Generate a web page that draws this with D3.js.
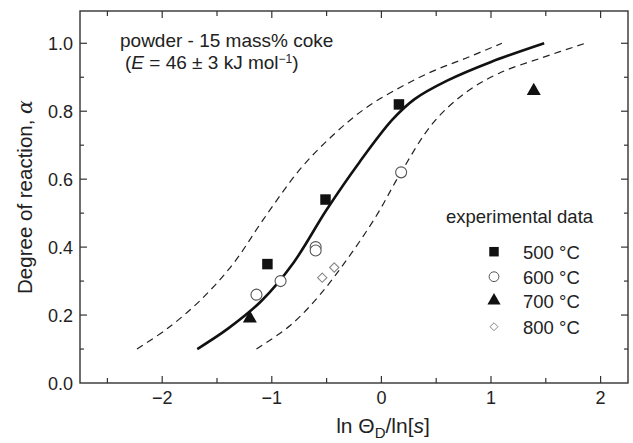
<!DOCTYPE html>
<html>
<head>
<meta charset="utf-8">
<script src="https://cdn.jsdelivr.net/npm/d3@7"></script>
<style>
  body { margin: 0; background: #fff; }
  text { font-family: "Liberation Sans", Arial, sans-serif; fill: #222; }
</style>
</head>
<body>
<div id="chart"></div>
<script>
// experimental points  [ln ΘD/ln[s], alpha]
var pts500 = [[-1.04, 0.35], [-0.51, 0.54], [0.16, 0.82]];
var pts600 = [[-1.14, 0.26], [-0.92, 0.30], [-0.60, 0.40], [-0.60, 0.39], [0.18, 0.62]];
var pts700 = [[-1.20, 0.19], [1.39, 0.86]];
var pts800 = [[-0.54, 0.31], [-0.43, 0.34]];

// model curve (solid) and bounds (dashed)
var fitLine = [[-1.68, 0.10], [-1.4, 0.16], [-1.1, 0.24], [-0.8, 0.355], [-0.5, 0.51],
    [-0.2, 0.65], [0.1, 0.775], [0.3, 0.835], [0.6, 0.89], [1.0, 0.945], [1.485, 1.0]];
var upperLine = [[-2.23, 0.10], [-1.95, 0.161], [-1.65, 0.244], [-1.35, 0.352], [-1.08, 0.48],
    [-0.74, 0.63], [-0.44, 0.73], [-0.14, 0.81], [0.17, 0.87], [0.47, 0.918],
    [0.77, 0.956], [1.1, 1.0]];
var lowerLine = [[-1.14, 0.10], [-0.83, 0.17], [-0.56, 0.26], [-0.3, 0.37], [-0.05, 0.49],
    [0.17, 0.615], [0.47, 0.765], [0.77, 0.855], [1.075, 0.912], [1.47, 0.958], [1.86, 1.0]];

var xTicks = [-2, -1, 0, 1, 2];
var yTicks = [0.0, 0.2, 0.4, 0.6, 0.8, 1.0];
var legendLabels = ["500 °C", "600 °C", "700 °C", "800 °C"];

var width = 633, height = 443;
var margin = {left: 80, right: 5, top: 11, bottom: 60};

var svg = d3.select("#chart").append("svg")
    .attr("width", width)
    .attr("height", height);

var x = d3.scaleLinear().domain([-2.75, 2.25]).range([margin.left, width - margin.right]);
var y = d3.scaleLinear().domain([0, 1.095]).range([height - margin.bottom, margin.top]);

var x0 = x.range()[0], x1 = x.range()[1], y0 = y.range()[0], y1 = y.range()[1];

// ticks (inward, on all four sides)
var xMinor = d3.range(-2.5, 2.01, 0.5);
var yMinor = d3.range(0.1, 1.05, 0.1);
var tickG = svg.append("g").attr("stroke", "#333").attr("stroke-width", 1.2);
xMinor.forEach(function(v) {
    var major = Math.abs(v - Math.round(v)) < 1e-6;
    var len = major ? 7 : 5;
    tickG.append("line").attr("x1", x(v)).attr("x2", x(v)).attr("y1", y0).attr("y2", y0 - len);
    tickG.append("line").attr("x1", x(v)).attr("x2", x(v)).attr("y1", y1).attr("y2", y1 + len);
});
yMinor.forEach(function(v) {
    var major = Math.abs(v * 5 - Math.round(v * 5)) < 1e-6;
    var len = major ? 7 : 4;
    tickG.append("line").attr("x1", x0).attr("x2", x0 + len).attr("y1", y(v)).attr("y2", y(v));
    tickG.append("line").attr("x1", x1).attr("x2", x1 - len).attr("y1", y(v)).attr("y2", y(v));
});

// frame
svg.append("rect")
    .attr("x", x0).attr("y", y1)
    .attr("width", x1 - x0).attr("height", y0 - y1)
    .attr("fill", "none").attr("stroke", "#333").attr("stroke-width", 1.4);

// tick labels
svg.append("g").selectAll("text").data(xTicks).enter().append("text")
    .attr("x", function(d) { return x(d); })
    .attr("y", y0 + 21)
    .attr("text-anchor", "middle")
    .style("font-size", "18px")
    .text(function(d) { return d < 0 ? "\u2212" + Math.abs(d) : d; });

svg.append("g").selectAll("text").data(yTicks).enter().append("text")
    .attr("x", x0 - 7)
    .attr("y", function(d) { return y(d) + 7; })
    .attr("text-anchor", "end")
    .style("font-size", "18px")
    .text(function(d) { return d.toFixed(1); });

// axis titles
var xt = svg.append("text")
    .attr("x", 383).attr("y", 433)
    .attr("text-anchor", "middle")
    .style("font-size", "21px");
xt.append("tspan").text("ln \u0398");
xt.append("tspan").attr("baseline-shift", "-30%").style("font-size", "15px").text("D");
xt.append("tspan").text("/ln[");
xt.append("tspan").style("font-style", "italic").text("s");
xt.append("tspan").text("]");

var yt = svg.append("text")
    .attr("transform", "translate(32," + ((y0 + y1) / 2) + ") rotate(-90)")
    .attr("text-anchor", "middle")
    .style("font-size", "20.5px");
yt.append("tspan").text("Degree of reaction, ");
yt.append("tspan").style("font-family", "'DejaVu Serif', serif").style("font-style", "italic").text("\u03b1");

// curves
var line = d3.line()
    .x(function(d) { return x(d[0]); })
    .y(function(d) { return y(d[1]); })
    .curve(d3.curveCatmullRom.alpha(0.5));

svg.append("path").datum(upperLine)
    .attr("d", line).attr("fill", "none")
    .attr("stroke", "#222").attr("stroke-width", 1.2).attr("stroke-dasharray", "7,5");
svg.append("path").datum(lowerLine)
    .attr("d", line).attr("fill", "none")
    .attr("stroke", "#222").attr("stroke-width", 1.2).attr("stroke-dasharray", "7,5");
svg.append("path").datum(fitLine)
    .attr("d", line).attr("fill", "none")
    .attr("stroke", "#111").attr("stroke-width", 2.6);

// markers
var sq = d3.symbol().type(d3.symbolSquare);
var ci = d3.symbol().type(d3.symbolCircle);
var tr = d3.symbol().type(d3.symbolTriangle);
var di = d3.symbol().type(d3.symbolDiamond2);

function drawPoints(data, sym, size, fill, stroke, sw) {
    svg.append("g").selectAll("path").data(data).enter().append("path")
        .attr("transform", function(d) { return "translate(" + x(d[0]) + "," + y(d[1]) + ")"; })
        .attr("d", sym.size(size)())
        .attr("fill", fill)
        .attr("stroke", stroke)
        .attr("stroke-width", sw);
}
drawPoints(pts600, ci, 95, "#fff", "#555", 1.1);
drawPoints(pts800, di, 55, "#fff", "#888", 1.1);
drawPoints(pts500, sq, 110, "#111", "none", 0);
drawPoints(pts700, tr, 85, "#111", "none", 0);

// annotation
svg.append("text").attr("x", 120).attr("y", 47).style("font-size", "19px")
    .text("powder - 15 mass% coke");
var ann = svg.append("text").attr("x", 125).attr("y", 69).style("font-size", "19px");
ann.append("tspan").text("(");
ann.append("tspan").style("font-style", "italic").text("E");
ann.append("tspan").text(" = 46 \u00b1 3 kJ mol");
ann.append("tspan").attr("dy", -6).style("font-size", "12px").text("\u22121");
ann.append("tspan").attr("dy", 6).text(")");

// legend
svg.append("text").attr("x", 446).attr("y", 223).style("font-size", "18.5px")
    .text("experimental data");
var legSyms = [
    {sym: sq, size: 90, fill: "#111", stroke: "none"},
    {sym: ci, size: 75, fill: "#fff", stroke: "#555"},
    {sym: tr, size: 75, fill: "#111", stroke: "none"},
    {sym: di, size: 40, fill: "#fff", stroke: "#888"}
];
var legY = [251.7, 276.7, 300.7, 326.7];
legendLabels.forEach(function(lbl, i) {
    var s = legSyms[i];
    svg.append("path")
        .attr("transform", "translate(494," + legY[i] + ")")
        .attr("d", s.sym.size(s.size)())
        .attr("fill", s.fill).attr("stroke", s.stroke).attr("stroke-width", 1);
    svg.append("text").attr("x", 523).attr("y", legY[i] + 7)
        .style("font-size", "18.5px").text(lbl);
});
</script>
</body>
</html>
